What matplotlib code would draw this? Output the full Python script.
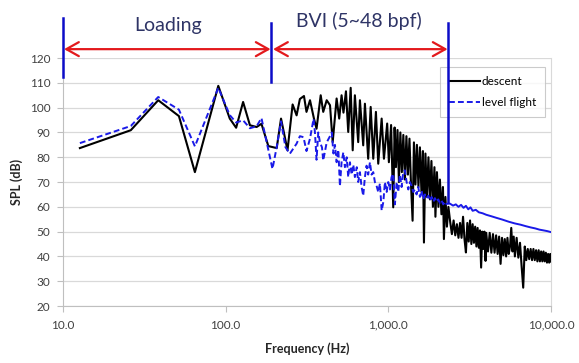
import numpy as np
import matplotlib
matplotlib.use('Agg')
import matplotlib.pyplot as plt
from matplotlib.ticker import FixedLocator, NullLocator

plt.rcParams['font.family'] = ['Lato', 'DejaVu Sans']

# descent spectrum (Hz, dB)
descent_freq = [
    12.7, 26.1, 38.5, 51.6, 64.7, 90.1, 106, 116, 128, 141,
    155, 166, 183, 206, 219, 240, 258, 273, 286, 303,
    314, 330, 349, 362, 384, 398, 418, 438, 455, 481,
    499, 516, 530, 549, 567, 587, 604, 623, 653, 669,
    701, 718, 752, 779, 808, 839, 867, 910, 940, 984,
    1008, 1040, 1072, 1093, 1114, 1139, 1162, 1186, 1211, 1237,
    1265, 1292, 1320, 1349, 1377, 1410, 1437, 1468, 1499, 1532,
    1564, 1598, 1632, 1656, 1691, 1727, 1765, 1802, 1841, 1880,
    1921, 1948, 1990, 2033, 2076, 2121, 2167, 2197, 2244, 2292,
    2341,
    2400, 2460, 2520, 2580, 2640, 2700, 2760, 2820, 2880, 2940,
    3000, 3060, 3120, 3180, 3240, 3300, 3360, 3420, 3480, 3540,
    3600, 3660, 3720, 3780, 3840, 3900, 3960, 4000, 4100, 4200,
    4300, 4400, 4500, 4600, 4700, 4800, 4900, 5000, 5100, 5200,
    5300, 5400, 5500, 5600, 5700, 5800, 5900, 6000, 6150, 6300,
    6450, 6600, 6750, 6900, 7050, 7200, 7350, 7500, 7650, 7800,
    7950, 8100, 8250, 8400, 8550, 8700, 8850, 9000, 9150, 9300,
    9450, 9600, 9750, 9900, 10000]
descent_spl = [
    83.7, 90.9, 103.0, 96.6, 74.0, 108.8, 95.6, 91.9, 102.3, 92.9,
    92.2, 93.5, 84.5, 83.7, 95.6, 82.8, 101.3, 96.9, 103.5, 104.7,
    98.3, 103.0, 95.6, 91.5, 105.0, 98.3, 103.0, 101.0, 86.1, 103.7,
    95.6, 105.0, 98.0, 106.6, 90.2, 108.0, 82.8, 105.0, 86.1, 103.0,
    84.8, 101.6, 79.4, 100.3, 79.4, 98.3, 77.4, 95.6, 79.4, 93.6,
    78.0, 93.0, 59.8, 92.0, 76.0, 91.0, 70.0, 90.0, 74.0, 89.0,
    71.0, 88.5, 73.0, 87.5, 70.0, 54.4, 86.0, 69.0, 85.0, 68.0,
    84.0, 66.0, 82.5, 45.6, 81.5, 64.0, 80.0, 63.0, 78.5, 60.0,
    76.0, 56.0, 74.0, 60.0, 71.0, 57.0, 68.0, 47.0, 64.0, 52.0,
    60.0,
    54.0, 49.0, 54.5, 48.5, 53.0, 47.5, 53.5, 47.5, 56.0, 47.0,
    41.6, 53.5, 46.0, 54.5, 45.0, 53.0, 45.5, 52.0, 44.0, 51.5,
    43.5, 50.5, 35.5, 50.0, 43.0, 50.0, 38.2, 49.5, 42.0, 49.5,
    41.5, 49.0, 41.5, 48.5, 41.0, 48.0, 37.0, 47.5, 40.5, 47.0,
    40.0, 47.5, 41.0, 44.0, 51.5, 42.0, 48.0, 40.0, 47.5, 39.5,
    45.5, 36.0, 27.4, 44.0, 38.5, 43.0, 38.9, 43.0, 38.5, 43.0,
    38.5, 42.5, 38.0, 42.5, 38.0, 42.0, 38.0, 42.0, 38.0, 41.5,
    37.5, 41.0, 37.5, 41.0, 38.0]

# level flight spectrum (Hz, dB)
level_freq = [
    12.7, 26.1, 38.5, 51.6, 64.7, 90.1, 106, 116, 128, 141,
    155, 166, 194, 206, 219, 233, 248, 273, 286, 301,
    314, 330, 347, 354, 362, 371, 380, 391, 398, 418,
    438, 449, 460, 470, 481, 493, 504, 516, 529, 541,
    555, 567, 581, 595, 609, 623, 640, 653, 669, 685,
    701, 718, 735, 752, 771, 789, 808, 827, 846, 867,
    888, 910, 932, 953, 977, 999, 1023, 1047, 1072, 1098,
    1125, 1151, 1178, 1207, 1235, 1265, 1296, 1327, 1357, 1390,
    1423, 1457, 1492, 1528, 1564, 1602, 1641, 1679, 1720, 1762,
    1802, 1846, 1890, 1934, 1981, 2028, 2076, 2125, 2176, 2228,
    2282, 2391, 2500, 2600, 2700, 2800, 2900, 3000, 3100, 3200,
    3300, 3450, 3600, 3800, 4000, 4300, 4600, 5000, 5500, 6000,
    6500, 7000, 7500, 8000, 8500, 9000, 9500, 10000]
level_spl = [
    85.7, 92.6, 104.3, 99.2, 84.4, 108.0, 97.0, 94.0, 94.9, 91.7,
    92.5, 95.8, 75.3, 84.1, 94.5, 84.1, 81.4, 85.5, 88.5, 88.1,
    82.5, 87.5, 95.5, 90.0, 79.0, 90.0, 86.0, 84.0, 78.7, 86.0,
    88.5, 90.0, 81.5, 85.0, 78.0, 83.0, 68.3, 78.0, 82.0, 76.0,
    80.0, 72.0, 78.0, 73.0, 77.0, 72.0, 76.0, 70.0, 74.0, 68.0,
    64.5, 72.0, 76.6, 73.0, 78.0, 73.0, 74.0, 70.0, 68.6, 66.0,
    69.4, 58.5, 62.0, 70.0, 66.0, 70.0, 67.0, 72.0, 73.3, 61.0,
    70.0, 66.0, 73.0, 68.0, 74.0, 74.7, 70.0, 67.0, 70.0, 68.5,
    66.0, 67.0, 65.0, 68.0, 64.0, 66.5, 63.0, 65.0, 63.5, 64.5,
    62.5, 64.0, 62.0, 63.5, 62.0, 63.0, 61.5, 62.5, 61.0, 62.0,
    61.2, 61.3, 60.5, 61.0, 60.0, 60.8, 59.6, 60.4, 59.0, 59.8,
    58.4, 58.8, 57.8, 57.4, 56.8, 56.2, 55.6, 54.9, 54.0, 53.3,
    52.8, 52.2, 51.7, 51.3, 50.8, 50.5, 50.2, 49.8]

x_ticks = [10, 100, 1000, 10000]
x_tick_labels = ['10.0', '100.0', '1,000.0', '10,000.0']
y_ticks = list(range(20, 121, 10))

# regions marked above the plot
region_edges = [10.05, 189, 2315]
region_names = ['Loading', 'BVI (5~48 bpf)']
region_label_hz = [44.2, 658]

fig = plt.figure(figsize=(5.79, 3.63), dpi=100)
ax = fig.add_axes([0.1088, 0.157, 0.8428, 0.683])

ax.plot(descent_freq, descent_spl, color='black', lw=1.5, label='descent', zorder=3)

lf = np.array(level_freq)
lv = np.array(level_spl)
dash_part = lf <= 2282
solid_part = lf >= 2282
ax.plot(lf[dash_part], lv[dash_part], color='#1a1ae8', lw=1.4, ls=(0, (3, 1.6)),
        label='level flight', zorder=4)
ax.plot(lf[solid_part], lv[solid_part], color='#1a1ae8', lw=1.4, zorder=4)

ax.set_xscale('log')
ax.set_xlim(10, 10000)
ax.set_ylim(20, 120)
ax.xaxis.set_major_locator(FixedLocator(x_ticks))
ax.xaxis.set_minor_locator(NullLocator())
ax.set_xticklabels(x_tick_labels)
ax.set_yticks(y_ticks)

ax.yaxis.grid(True, color='#d9d9d9', lw=0.9)
ax.set_axisbelow(True)
for side in ['left', 'bottom']:
    ax.spines[side].set_color('#bfbfbf')
ax.spines['right'].set_color('#d9d9d9')
ax.spines['top'].set_visible(False)
ax.tick_params(axis='both', length=4, width=0.8, color='#bfbfbf',
               labelsize=8.5, labelcolor='#404040')
ax.tick_params(axis='y', pad=5)
ax.tick_params(axis='x', pad=6)

ax.set_xlabel('Frequency (Hz)', fontsize=9, fontweight='bold', color='#262626')
ax.set_ylabel('SPL (dB)', fontsize=9, fontweight='bold', color='#262626')
ax.xaxis.set_label_coords(0.5, -0.145)
ax.yaxis.set_label_coords(-0.082, 0.5)

leg = ax.legend(loc='upper left', bbox_to_anchor=(0.7725, 0.964), fontsize=8.5,
                fancybox=False, edgecolor='#bfbfbf', handlelength=2.6,
                handletextpad=0.2, labelspacing=0.85, borderaxespad=0,
                borderpad=0.75)
leg.get_frame().set_linewidth(0.8)

# blue boundary markers
ax.plot([region_edges[0]] * 2, [112.3, 136.2], color='#0c0cc8', lw=1.8,
        clip_on=False, zorder=6)
ax.plot([region_edges[1]] * 2, [110.3, 134.2], color='#0c0cc8', lw=1.8,
        clip_on=False, zorder=6)
ax.plot([region_edges[2]] * 2, [62.0, 134.2], color='#0c0cc8', lw=1.8,
        clip_on=False, zorder=6)

# red double arrows
arrow = dict(arrowstyle='<->,head_length=0.5,head_width=0.28', color='#e3191c',
             lw=1.6, shrinkA=0, shrinkB=0, mutation_scale=18)
ax.annotate('', xy=(region_edges[1], 123.6), xytext=(region_edges[0] * 1.01, 123.6),
            arrowprops=arrow, annotation_clip=False)
ax.annotate('', xy=(region_edges[2], 123.6), xytext=(region_edges[1] * 1.035, 123.6),
            arrowprops=arrow, annotation_clip=False)

ax.text(region_label_hz[0], 130.9, region_names[0], ha='center', va='baseline',
        fontsize=14, color='#2e3466')
ax.text(region_label_hz[1], 132.4, region_names[1], ha='center', va='baseline',
        fontsize=14, color='#2e3466')

fig.savefig('out.png', dpi=100)
